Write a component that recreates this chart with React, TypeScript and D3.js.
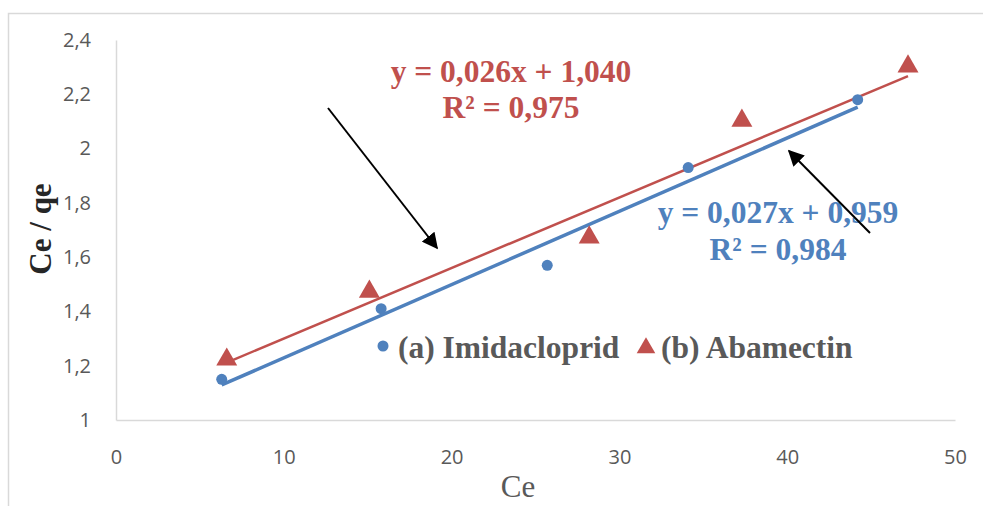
import React, { useEffect, useRef } from "react";
import * as d3 from "d3";

// Imidacloprid (a) — blue circles
const imidaCe = [6.3, 15.8, 25.7, 34.1, 44.2];
const imidaRatio = [1.15, 1.41, 1.57, 1.93, 2.18];
// Abamectin (b) — red triangles
const abaCe = [6.6, 15.1, 28.2, 37.3, 47.2];
const abaRatio = [1.23, 1.48, 1.68, 2.11, 2.31];

// linear trendlines as printed on the chart
const imidaFit = { slope: 0.027, intercept: 0.959, eq: "y = 0,027x + 0,959", r2: "R² = 0,984" };
const abaFit = { slope: 0.026, intercept: 1.04, eq: "y = 0,026x + 1,040", r2: "R² = 0,975" };

const xTicks = [0, 10, 20, 30, 40, 50];
const yTicks = [1, 1.2, 1.4, 1.6, 1.8, 2, 2.2, 2.4];

const W = 983;
const H = 506;
const BLUE = "#4F81BD";
const RED = "#C0504D";
const GREY = "#595959";

export default function App() {
  const ref = useRef<SVGSVGElement>(null);

  useEffect(() => {
    const svg = d3.select(ref.current);
    svg.selectAll("*").remove();

    const x = d3.scaleLinear().domain([0, 50]).range([116, 955]);
    const y = d3.scaleLinear().domain([1, 2.4]).range([420, 40]);
    const fmt = (v: number) => String(v).replace(".", ",");

    // chart area border
    svg.append("rect")
      .attr("x", 8.5).attr("y", 13.5)
      .attr("width", 1000).attr("height", 600)
      .attr("fill", "none").attr("stroke", "#d9d9d9").attr("stroke-width", 1.5);

    const defs = svg.append("defs");
    defs.append("marker")
      .attr("id", "arrow")
      .attr("viewBox", "0 0 10 10")
      .attr("refX", 9).attr("refY", 5)
      .attr("markerWidth", 8).attr("markerHeight", 8)
      .attr("orient", "auto")
      .append("path")
      .attr("d", "M0,0 L10,5 L0,10 z")
      .attr("fill", "#000");

    // axes
    const yAxis = svg.append("g")
      .attr("transform", `translate(${x(0)},0)`)
      .call(d3.axisLeft(y).tickValues(yTicks).tickSize(0).tickPadding(25).tickFormat((d) => fmt(d as number)));
    const xAxis = svg.append("g")
      .attr("transform", `translate(0,${y(1)})`)
      .call(d3.axisBottom(x).tickValues(xTicks).tickSize(0).tickPadding(30).tickFormat((d) => fmt(d as number)));
    [xAxis, yAxis].forEach((g) => {
      g.select(".domain").attr("stroke", "#d9d9d9").attr("stroke-width", 1.5);
      g.selectAll("text")
        .attr("fill", GREY)
        .style("font-family", "'Open Sans', sans-serif")
        .style("font-size", "20px");
    });

    // trendlines
    const trend = (xs: number[], fit: { slope: number; intercept: number }) => {
      const lo = d3.min(xs)!;
      const hi = d3.max(xs)!;
      return [[lo, fit.slope * lo + fit.intercept], [hi, fit.slope * hi + fit.intercept]] as [number, number][];
    };
    const line = d3.line<[number, number]>().x((d) => x(d[0])).y((d) => y(d[1]));
    svg.append("path").attr("d", line(trend(abaCe, abaFit))!)
      .attr("stroke", RED).attr("stroke-width", 2.5).attr("fill", "none");
    svg.append("path").attr("d", line(trend(imidaCe, imidaFit))!)
      .attr("stroke", BLUE).attr("stroke-width", 3.5).attr("fill", "none");

    // points
    const tri = d3.symbol().type(d3.symbolTriangle).size(190);
    svg.append("g").selectAll("circle")
      .data(imidaCe.map((c, i) => [c, imidaRatio[i]]))
      .join("circle")
      .attr("cx", (d) => x(d[0])).attr("cy", (d) => y(d[1]))
      .attr("r", 5.5).attr("fill", BLUE);
    svg.append("g").selectAll("path")
      .data(abaCe.map((c, i) => [c, abaRatio[i]]))
      .join("path")
      .attr("d", tri()!)
      .attr("transform", (d) => `translate(${x(d[0])},${y(d[1]) + 2})`)
      .attr("fill", RED);

    const serif = "'Liberation Serif', 'Times New Roman', serif";

    // equations
    const eq = (lines: string[], cx: number, ys: number[], color: string) => {
      lines.forEach((t, i) => {
        svg.append("text").text(t)
          .attr("x", cx).attr("y", ys[i])
          .attr("text-anchor", "middle")
          .attr("fill", color)
          .style("font-family", serif).style("font-weight", "bold").style("font-size", "31.5px");
      });
    };
    eq([abaFit.eq, abaFit.r2], 511, [82, 118], RED);
    eq([imidaFit.eq, imidaFit.r2], 778, [223, 260], BLUE);

    // arrows
    svg.append("line").attr("x1", 328).attr("y1", 108).attr("x2", 437).attr("y2", 248)
      .attr("stroke", "#000").attr("stroke-width", 2).attr("marker-end", "url(#arrow)");
    svg.append("line").attr("x1", 870).attr("y1", 233).attr("x2", 789).attr("y2", 151)
      .attr("stroke", "#000").attr("stroke-width", 2).attr("marker-end", "url(#arrow)");

    // legend
    const leg = svg.append("g");
    leg.append("circle").attr("cx", 383).attr("cy", 346).attr("r", 5.5).attr("fill", BLUE);
    leg.append("text").text("(a) Imidacloprid").attr("x", 398).attr("y", 358)
      .attr("fill", GREY).style("font-family", serif).style("font-weight", "bold").style("font-size", "31.5px");
    leg.append("path").attr("d", d3.symbol().type(d3.symbolTriangle).size(150)()!)
      .attr("transform", "translate(646,348)").attr("fill", RED);
    leg.append("text").text("(b) Abamectin").attr("x", 661).attr("y", 358)
      .attr("fill", GREY).style("font-family", serif).style("font-weight", "bold").style("font-size", "31.5px");

    // axis titles
    svg.append("text").text("Ce").attr("x", 518).attr("y", 497)
      .attr("text-anchor", "middle").attr("fill", GREY)
      .style("font-family", serif).style("font-size", "31px");
    svg.append("text").text("Ce / qe")
      .attr("transform", "translate(51,229) rotate(-90)")
      .attr("text-anchor", "middle").attr("fill", "#262626")
      .style("font-family", serif).style("font-weight", "bold").style("font-size", "31px");
  }, []);

  return (
    <svg
      ref={ref}
      width={W}
      height={H}
      style={{ position: "absolute", left: 0, top: 0, background: "#fff" }}
    />
  );
}
